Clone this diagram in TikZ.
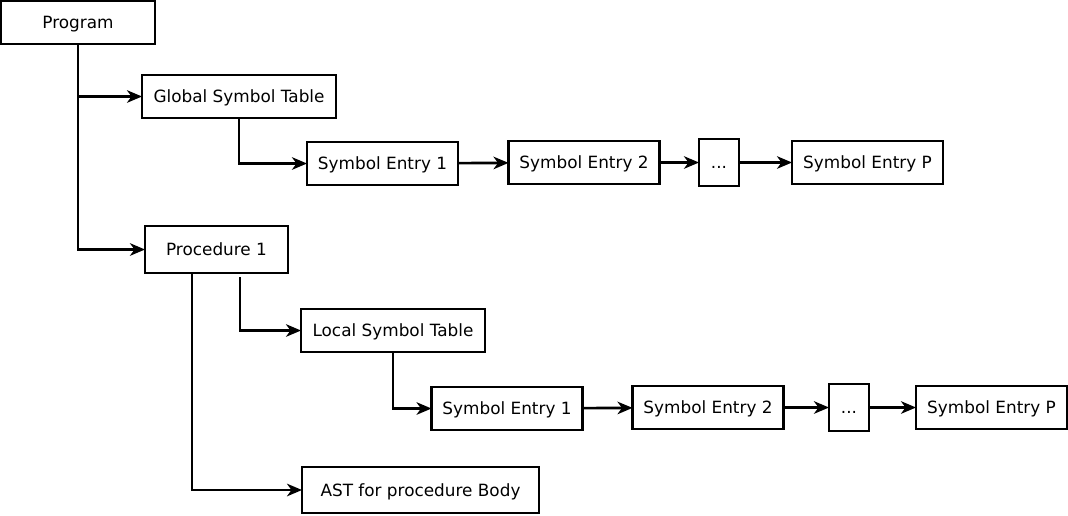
\documentclass[tikz,border=0pt]{standalone}
\usepackage{fontspec}
\setmainfont{DejaVu Sans}
\usetikzlibrary{arrows.meta}
\begin{document}
\begin{tikzpicture}[x=0.02cm,y=-0.02cm,line width=1.5pt,>={Stealth[length=0.3cm,width=0.25cm,inset=0.09cm]},
  every node/.style={draw,line width=1.5pt,minimum height=0.86cm,inner sep=0pt,outer sep=0pt,text height=0.9em,text depth=0.2em,font=\fontsize{9.6}{11}\selectfont},
  entry/.style={minimum width=3.02cm},
  dots/.style={minimum width=0.8cm,minimum height=0.94cm}]
\useasboundingbox (0,0) rectangle (1068,515);
\node[minimum width=3.08cm] (prog) at (78,22.5) {Program};
\node[minimum width=3.88cm] (gst) at (239,96.5) {Global Symbol Table};
\node[entry] (gse1) at (382.5,163.5) {Symbol Entry 1};
\node[entry] (gse2) at (584,162.5) {Symbol Entry 2};
\node[dots] (gdots) at (719,162.5) {...};
\node[entry] (gsep) at (867.5,162.5) {Symbol Entry P};
\node[minimum width=2.86cm,minimum height=0.94cm] (proc) at (216.5,249.5) {Procedure 1};
\node[minimum width=3.68cm] (lst) at (393,330.5) {Local Symbol Table};
\node[entry] (lse1) at (507,408.5) {Symbol Entry 1};
\node[entry] (lse2) at (708,407.5) {Symbol Entry 2};
\node[dots] (ldots) at (849,407.5) {...};
\node[entry] (lsep) at (991.5,407.5) {Symbol Entry P};
\node[minimum width=4.74cm,minimum height=0.92cm] (ast) at (420.5,490) {AST for procedure Body};
\draw[->] (prog.south) |- (gst.west);
\draw[->] (prog.south) |- (proc.west);
\draw[->] (gst.south) |- (gse1.west);
\draw[->] (gse1) -- (gse2);
\draw[->] (gse2) -- (gdots);
\draw[->] (gdots) -- (gsep);
\draw[->] ([xshift=0.47cm,yshift=-0.08cm]proc.south) |- (lst.west);
\draw[->] ([xshift=-0.49cm]proc.south) |- (ast.west);
\draw[->] (lst.south) |- (lse1.west);
\draw[->] (lse1) -- (lse2);
\draw[->] (lse2) -- (ldots);
\draw[->] (ldots) -- (lsep);
\end{tikzpicture}
\end{document}
